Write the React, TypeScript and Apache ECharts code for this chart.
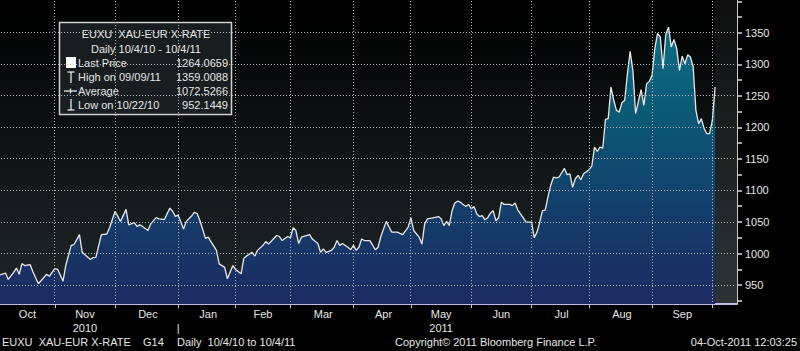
import React, { useEffect, useRef } from "react";
import * as echarts from "echarts";

const FONT = "'Liberation Sans', Arial, sans-serif";
const FS = 11;

// Axis calendar: Bloomberg plots trading days (weekdays only)
const START_DATE = "2010-10-04";
const AXIS_SLOTS = 270;

// Trading-day index (from START_DATE) of each read point
const tradingDay = [
  0, 2, 3, 5, 6, 7, 8, 9, 11, 12,
  14, 16, 17, 18, 20, 21, 22, 23, 24, 26,
  27, 29, 30, 31, 33, 34, 35, 37, 39, 40,
  42, 44, 46, 47, 49, 50, 51, 52, 54, 55,
  57, 58, 60, 62, 63, 64, 65, 67, 68, 70,
  71, 72, 73, 75, 76, 77, 79, 80, 82, 83,
  85, 86, 88, 89, 90, 92, 93, 94, 96, 97,
  98, 99, 101, 102, 103, 105, 106, 107, 108, 109,
  110, 113, 114, 116, 117, 118, 119, 121, 122, 123,
  124, 125, 127, 128, 129, 130, 131, 132, 133, 135,
  137, 138, 139, 141, 142, 143, 145, 147, 148, 149,
  150, 151, 153, 154, 155, 156, 158, 160, 161, 162,
  163, 164, 165, 166, 167, 168, 170, 171, 172, 173,
  174, 175, 176, 177, 178, 179, 180, 181, 182, 183,
  184, 186, 187, 188, 189, 191, 192, 194, 195, 196,
  197, 198, 199, 200, 201, 202, 203, 204, 206, 207,
  208, 209, 210, 211, 212, 213, 215, 216, 217, 218,
  219, 220, 221, 222, 223, 224, 225, 226, 227, 228,
  229, 230, 231, 232, 233, 234, 235, 236, 237, 238,
  239, 240, 241, 242, 243, 244, 245, 246, 247, 248,
  249, 250, 251, 252, 253, 254, 255, 256, 257, 258,
  259, 260, 261,
];

// XAU-EUR price at those days
const price = [
  966, 969, 959, 970, 977, 967, 984, 981, 982.5, 971,
  952.14, 962, 967, 964, 976, 975, 966, 956, 981, 1013,
  1014, 1030, 1002, 998, 990.5, 993.6, 994, 1030, 1031, 1041,
  1067, 1051, 1070, 1045.5, 1049, 1043, 1045.5, 1043, 1036.5, 1047,
  1057, 1055, 1054, 1072, 1067, 1059, 1061, 1039, 1051, 1060,
  1065.5, 1063, 1052, 1024, 1026, 1019, 1005, 983.6, 978, 960,
  981, 974.6, 968, 992.5, 996, 1002, 996, 1005, 1013, 1019,
  1015, 1019.5, 1028.6, 1027, 1020.6, 1027, 1025, 1041, 1036.5, 1016,
  1026, 1030, 1023, 1016, 1002, 1007.5, 1002, 1005, 1010, 1020.6,
  1013, 1016, 1010, 1006, 1013, 1005, 1010, 1023, 1020.6, 1020.6,
  1006, 1010, 1027, 1051, 1042, 1034, 1034, 1030, 1036, 1042,
  1056.7, 1036.5, 1026, 1015, 1047, 1055, 1056.7, 1058.7, 1055, 1044.4,
  1051, 1044.4, 1068, 1080, 1083, 1081.4, 1074.6, 1077.8, 1071, 1074.6,
  1063, 1058.7, 1060, 1053.5, 1056.7, 1064, 1068, 1052, 1056.7, 1081.4,
  1077.8, 1077.8, 1076, 1080, 1069, 1056.7, 1049.7, 1049.7, 1025, 1034,
  1049.7, 1068, 1069, 1090, 1108, 1121, 1120, 1121, 1135, 1125,
  1126.5, 1105, 1118.6, 1124, 1117, 1126.5, 1133, 1138.5, 1168.7, 1162,
  1168.7, 1167, 1212.7, 1213.8, 1264, 1243, 1227, 1224, 1239, 1243,
  1285, 1320.6, 1290, 1221.7, 1241, 1260, 1235, 1269, 1273, 1282.5,
  1325, 1349, 1343.6, 1293, 1347.5, 1359.01, 1327.6, 1339.6, 1325, 1290,
  1313, 1301, 1315, 1311.6, 1295.7, 1227, 1206, 1214, 1198, 1190,
  1190, 1211, 1264.07,
];

const monthNames = ["Jan", "Feb", "Mar", "Apr", "May", "Jun", "Jul", "Aug", "Sep", "Oct", "Nov", "Dec"];
const yearLabels = [
  { month: "2010-11", label: "2010" },
  { month: "2011-05", label: "2011" },
];
const yLabelValues = [950, 1000, 1050, 1100, 1150, 1200, 1250, 1300, 1350];
const yTickValues = [
  925, 950, 975, 1000, 1025, 1050, 1075, 1100, 1125, 1150,
  1175, 1200, 1225, 1250, 1275, 1300, 1325, 1350, 1375, 1400,
];
const Y_MIN = 920;
const Y_MAX = 1402;

const legendTitle = "EUXU  XAU-EUR X-RATE";
const legendPeriod = "Daily 10/4/10 - 10/4/11";
const lastPrice = 1264.0659;
const highDate = "09/09/11";
const highValue = 1359.0088;
const averageValue = 1072.5266;
const lowDate = "10/22/10";
const lowValue = 952.1449;

const footerTicker = "EUXU  XAU-EUR X-RATE";
const footerCode = "G14";
const footerRange = "Daily  10/4/10 to 10/4/11";
const footerCopyright = "Copyright\u00A9 2011 Bloomberg Finance L.P.";
const footerStamp = "04-Oct-2011 12:03:25";

function buildWeekdays(start: string, n: number): string[] {
  const out: string[] = [];
  const d = new Date(start + "T00:00:00Z");
  while (out.length < n) {
    const dow = d.getUTCDay();
    if (dow !== 0 && dow !== 6) out.push(d.toISOString().slice(0, 10));
    d.setUTCDate(d.getUTCDate() + 1);
  }
  return out;
}

const GRID = { left: 0, right: 63, top: 0, bottom: 47 };

export default function App() {
  const ref = useRef<HTMLDivElement>(null);

  useEffect(() => {
    if (!ref.current) return;
    const chart = echarts.init(ref.current, null, { renderer: "svg" });

    const categories = buildWeekdays(START_DATE, AXIS_SLOTS);
    const monthStarts: number[] = [];
    for (let i = 1; i < categories.length; i++) {
      if (categories[i].slice(0, 7) !== categories[i - 1].slice(0, 7)) monthStarts.push(i);
    }
    const monthStartSet = new Set(monthStarts);
    const labelMap = new Map<number, string>();
    const segStarts = [0, ...monthStarts];
    for (let k = 0; k < segStarts.length - 1; k++) {
      const s = segStarts[k];
      const e = segStarts[k + 1];
      const mid = Math.round((s + e) / 2);
      const ym = categories[s].slice(0, 7);
      const name = monthNames[parseInt(ym.slice(5, 7), 10) - 1];
      const yl = yearLabels.find((y) => y.month === ym);
      labelMap.set(mid, yl ? `${name}\n${yl.label}` : name);
    }
    for (const s of monthStarts) {
      if (categories[s].slice(0, 4) !== categories[s - 1].slice(0, 4)) labelMap.set(s, "\n|");
    }

    const seriesData = tradingDay.map((d, i) => [d, price[i]]);
    const lastIdx = tradingDay[tradingDay.length - 1];

    const txt = (text: string, x: number, y: number, align = "left", color = "#e6e6e6") => ({
      type: "text",
      x,
      y,
      style: {
        text,
        fill: color,
        fontSize: FS,
        fontFamily: FONT,
        textAlign: align,
        textVerticalAlign: "middle",
      },
    });
    const seg = (x1: number, y1: number, x2: number, y2: number) => ({
      type: "line",
      shape: { x1, y1, x2, y2 },
      style: { stroke: "#e6e6e6", lineWidth: 1.3 },
    });

    const W = 800 - GRID.left - GRID.right;
    const H = 351 - GRID.top - GRID.bottom;

    // dotted grid drawn as 1px squares on whole pixels, positioned through the axes' scales
    const renderGrid = (params: any, api: any) => {
      const cs = params.coordSys;
      const x0 = Math.ceil(cs.x);
      const y0 = Math.ceil(cs.y);
      const x1 = Math.floor(cs.x + cs.width) - 1;
      const y1 = Math.floor(cs.y + cs.height) - 2;
      let d = "";
      for (const s of monthStarts) {
        const x = Math.floor(api.coord([s, Y_MIN])[0]);
        for (let y = y0 + 1; y < y1; y += 3) d += `M${x} ${y}h1v1h-1z`;
      }
      for (const v of yLabelValues) {
        const y = Math.floor(api.coord([0, v])[1]);
        for (let x = x0 + 1; x < x1; x += 3) d += `M${x} ${y}h1v1h-1z`;
      }
      return {
        type: "path",
        shape: { pathData: d },
        style: { fill: "#b4b8bc", stroke: "none" },
        silent: true,
      };
    };

    const option: any = {
      animation: false,
      backgroundColor: "#000000",
      textStyle: { fontFamily: FONT },
      grid: { ...GRID, show: false },
      xAxis: {
        type: "category",
        data: categories,
        boundaryGap: false,
        axisLine: { show: true, lineStyle: { color: "#bdb8ea", width: 2 } },
        axisTick: {
          show: true,
          interval: (i: number) => monthStartSet.has(i),
          length: 4,
          lineStyle: { color: "#c8c8c8" },
        },
        axisLabel: {
          interval: (i: number) => labelMap.has(i),
          formatter: (_v: string, i: number) => labelMap.get(i) ?? "",
          color: "#e6e6e6",
          fontSize: FS,
          fontFamily: FONT,
          margin: 3,
          lineHeight: 14,
        },
        splitLine: { show: false },
      },
      yAxis: {
        type: "value",
        position: "right",
        min: Y_MIN,
        max: Y_MAX,
        axisLine: { show: true, lineStyle: { color: "#c8c8c8", width: 1 } },
        axisTick: {
          show: true,
          customValues: yTickValues,
          length: 5,
          lineStyle: { color: "#d8d8d8", width: 1.5 },
        },
        axisLabel: {
          customValues: yLabelValues,
          formatter: (v: number) => String(v),
          color: "#e6e6e6",
          fontSize: FS,
          fontFamily: FONT,
          margin: 8,
        },
        splitLine: { show: false },
      },
      series: [
        {
          type: "line",
          data: seriesData,
          symbol: "none",
          smooth: false,
          silent: true,
          z: 2,
          lineStyle: { color: "#e8e8e8", width: 1.3 },
          areaStyle: {
            opacity: 1,
            color: {
              type: "linear",
              x: 0,
              y: 0,
              x2: 0,
              y2: 1,
              colorStops: [
                { offset: 0, color: "#0b6d85" },
                { offset: 0.3, color: "#0b5a76" },
                { offset: 0.65, color: "#133e6b" },
                { offset: 1, color: "#1c2a62" },
              ],
            },
          },
          markArea: {
            silent: true,
            itemStyle: { color: "rgba(255,255,255,0.06)" },
            data: [[{ xAxis: categories[lastIdx] }, { xAxis: categories[AXIS_SLOTS - 1] }]],
          },
        },
        {
          type: "custom",
          silent: true,
          z: 15,
          clip: false,
          data: [[0, Y_MIN]],
          renderItem: renderGrid,
        },
        {
          type: "line",
          data: seriesData,
          symbol: "none",
          silent: true,
          z: 20,
          lineStyle: { opacity: 0 },
          markLine: {
            silent: true,
            symbol: ["none", "none"],
            lineStyle: { opacity: 0 },
            label: {
              show: true,
              position: "end",
              formatter: () => lastPrice.toFixed(4),
              backgroundColor: "#ffffff",
              color: "#000000",
              fontSize: FS,
              fontFamily: FONT,
              padding: [2, 3, 1, 3],
              distance: 3,
            },
            data: [{ yAxis: lastPrice }],
          },
        },
      ],
      graphic: [
        {
          type: "rect",
          z: -100,
          silent: true,
          shape: { x: GRID.left, y: GRID.top, width: W, height: H },
          style: {
            fill: {
              type: "linear",
              x: 0,
              y: 0,
              x2: 0,
              y2: 1,
              colorStops: [
                { offset: 0, color: "#000000" },
                { offset: 1, color: "#1f272a" },
              ],
            },
          },
        },
        {
          type: "rect",
          z: 5,
          shape: { x: 59.5, y: 22.5, width: 172, height: 92 },
          style: { fill: "rgba(26,32,35,0.92)", stroke: "#d0d0d0", lineWidth: 1.5 },
        },
        { ...txt(legendTitle, 146, 34, "center"), z: 6 },
        { ...txt(legendPeriod, 146, 48.5, "center"), z: 6 },
        { type: "rect", z: 6, shape: { x: 66, y: 57, width: 10, height: 11 }, style: { fill: "#ffffff" } },
        { ...txt("Last Price", 78, 63), z: 6 },
        { ...txt(lastPrice.toFixed(4), 228, 63, "right"), z: 6 },
        { ...seg(71, 72, 71, 83), z: 6 },
        { ...seg(67.5, 72, 74.5, 72), z: 6 },
        { ...txt(`High on ${highDate}`, 78, 77), z: 6 },
        { ...txt(highValue.toFixed(4), 228, 77, "right"), z: 6 },
        { ...seg(64, 91, 77, 91), z: 6 },
        { ...seg(70.5, 88.5, 70.5, 93.5), z: 6 },
        { ...txt("Average", 78, 91), z: 6 },
        { ...txt(averageValue.toFixed(4), 228, 91, "right"), z: 6 },
        { ...seg(71, 99, 71, 110), z: 6 },
        { ...seg(67.5, 110, 74.5, 110), z: 6 },
        { ...txt(`Low on ${lowDate}`, 78, 105), z: 6 },
        { ...txt(lowValue.toFixed(4), 228, 105, "right"), z: 6 },
        txt(footerTicker, 2, 342),
        txt(footerCode, 143, 342),
        txt(footerRange, 177, 342),
        txt(footerCopyright, 395, 342),
        txt(footerStamp, 797, 342, "right"),
      ],
    };

    chart.setOption(option);
    return () => chart.dispose();
  }, []);

  return (
    <div
      ref={ref}
      style={{ position: "fixed", left: 0, top: 0, width: 800, height: 351, background: "#000" }}
    />
  );
}
